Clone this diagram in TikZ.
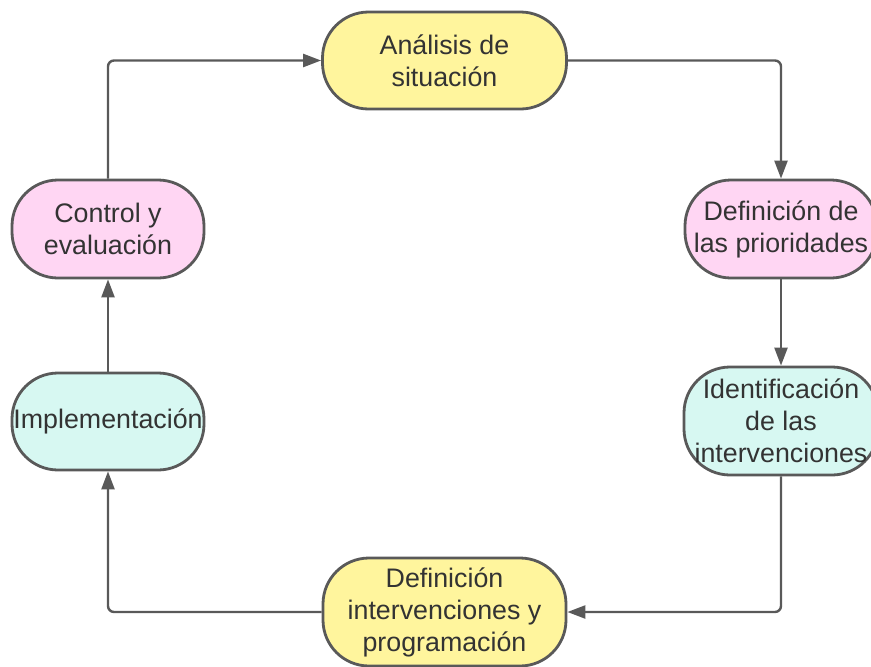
\documentclass[tikz,border=0pt]{standalone}
\usepackage{fontspec}
\setmainfont{Liberation Sans}
\usetikzlibrary{arrows.meta}
\definecolor{yelfill}{HTML}{FFF59D}
\definecolor{pinkfill}{HTML}{FFD6F3}
\definecolor{cyanfill}{HTML}{D7F8F2}
\definecolor{edgegray}{HTML}{595959}
\definecolor{txtgray}{HTML}{333333}
\tikzset{
  pill/.style={draw=edgegray, line width=2.8pt, rounded corners=46pt,
    align=center, inner sep=0pt, text=txtgray,
    font=\fontsize{26.8}{32}\selectfont},
  conn/.style={draw=edgegray, line width=2.4pt, rounded corners=6pt,
    -{Triangle[length=18pt,width=13pt]}}
}
\begin{document}
\begin{tikzpicture}[x=1pt,y=-1pt]
\useasboundingbox (0,0) rectangle (871,667);
\clip (0,0) rectangle (871,667);
\node[pill, fill=yelfill, minimum width=244pt, minimum height=97pt] (ana) at (444.5,60.5) {Análisis de\\situación};
\node[pill, fill=pinkfill, minimum width=192pt, minimum height=98pt] (prio) at (781,229) {Definición de\\las prioridades};
\node[pill, fill=cyanfill, minimum width=194pt, minimum height=108pt] (ident) at (781,421) {Identificación\\de las\\intervenciones};
\node[pill, fill=yelfill, minimum width=243pt, minimum height=108pt] (defi) at (444.5,612) {Definición\\intervenciones y\\programación};
\node[pill, fill=cyanfill, minimum width=192pt, minimum height=97pt] (impl) at (108,421.5) {Implementación};
\node[pill, fill=pinkfill, minimum width=192pt, minimum height=98pt] (ctrl) at (108,229) {Control y\\evaluación};
\draw[conn] (ana.east) -| (prio.north);
\draw[conn] (prio.south) -- (ident.north);
\draw[conn] (ident.south) |- (defi.east);
\draw[conn] (defi.west) -| (impl.south);
\draw[conn] (impl.north) -- (ctrl.south);
\draw[conn] (ctrl.north) |- (ana.west);
\end{tikzpicture}
\end{document}
